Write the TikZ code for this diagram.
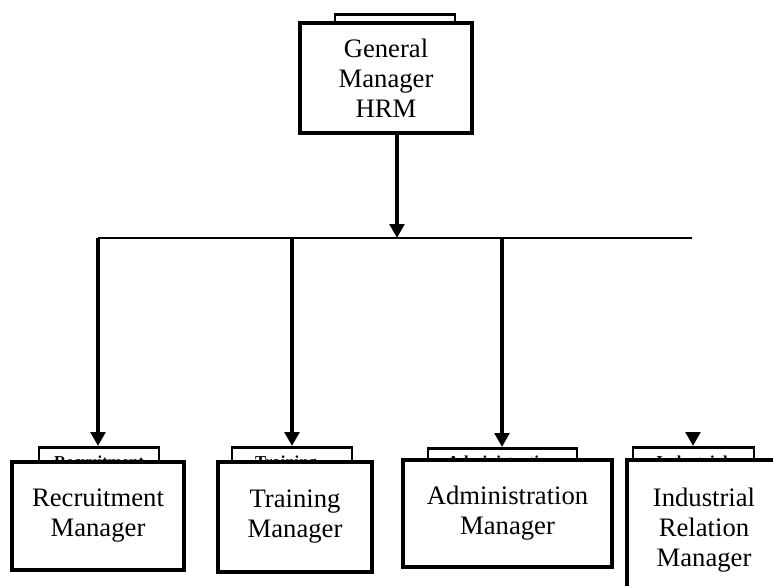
\documentclass[tikz,border=0pt]{standalone}
\usepackage{fontspec}
\setmainfont{Liberation Serif}
\usetikzlibrary{arrows.meta}
\begin{document}
\begin{tikzpicture}[x=0.75pt,y=-0.75pt,
  box/.style={draw, line width=2.6pt, fill=white, align=center, inner sep=0pt,
    font=\fontsize{20}{22.5}\selectfont},
  tabbox/.style={draw, line width=2.1pt, fill=white, inner sep=0pt, minimum height=22pt, anchor=north},
  tabtext/.style={anchor=base, inner sep=0pt, font=\fontsize{12.5}{14}\selectfont\bfseries},
  bus/.style={line width=1.7pt},
  arr/.style={line width=2.6pt, -{Triangle[length=10.5pt,width=11pt]}}]
\useasboundingbox (0,0) rectangle (773,585);
\clip (0,0) rectangle (773,585);

% tabs behind the boxes
\node[tabbox, minimum width=90pt, minimum height=15pt] (gt) at (395,13) {};
\node[tabbox, minimum width=90pt] (rt) at (99,446) {};
\node[tabbox, minimum width=90pt] (tt) at (292,446) {};
\node[tabbox, minimum width=111.75pt] (at) at (502.5,447) {};
\node[tabbox, minimum width=90.75pt] (it) at (693.5,446) {};
\node[tabtext] (rtx) at (99,467) {Recruitment};
\node[tabtext] (ttx) at (286,467) {Training};
\node[tabtext] (atx) at (502,467.5) {Administration};
\node[tabtext] (itx) at (692,467.5) {Industrial};

% main boxes
\node[box, minimum width=129pt, minimum height=82.5pt] (gm) at (386,78) {General\\Manager\\HRM};
\node[box, minimum width=129pt, minimum height=81pt] (rm) at (98,516) {Recruitment\\Manager};
\node[box, minimum width=115.5pt, minimum height=82.5pt] (tm) at (295,517) {Training\\Manager};
\node[box, minimum width=156.75pt, minimum height=80.25pt] (am) at (507.5,513.5) {Administration\\Manager};
\node[box, minimum width=115.5pt, minimum height=105pt] (im) at (704,530) {Industrial\\Relation\\Manager};

% connectors
\coordinate (j) at (397,238);
\coordinate (busL) at (98,238);
\coordinate (busR) at (692,238);
\coordinate (d2) at (292,238);
\coordinate (d3) at (502,238);
\coordinate (i0) at (693,433);
\draw[bus] (busL) -- (busR);
\draw[arr] (j |- gm.south) -- (j);
\draw[arr] (busL) -- (busL |- rt.north);
\draw[arr] (d2) -- (d2 |- tt.north);
\draw[arr] (d3) -- (d3 |- at.north);
\draw[arr] (i0) -- (i0 |- it.north);
\end{tikzpicture}
\end{document}
